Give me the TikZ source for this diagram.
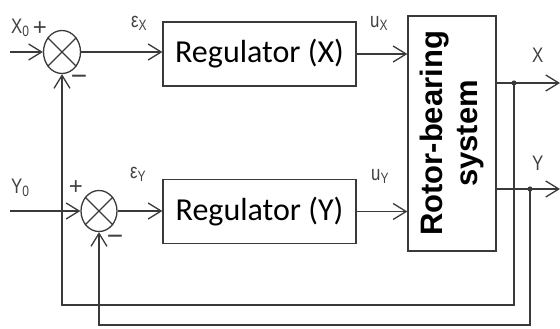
\documentclass[tikz,border=0pt]{standalone}
\usepackage{fontspec}
\setmainfont{Carlito}
\newfontfamily\labelfont[FakeStretch=0.8]{Liberation Sans}
\newfontfamily\signfont{Liberation Sans}
\usetikzlibrary{arrows.meta,shapes.geometric}
\definecolor{lineGray}{HTML}{3a3a3a}
\newcommand{\lowsub}[1]{\raisebox{-3pt}{\fontsize{15}{15}\selectfont#1}}

\begin{document}
\begin{tikzpicture}[x=1pt,y=-1pt]
    \tikzset{
        wire/.style={draw=lineGray, line width=1.3pt},
        sig/.style={wire, -{Straight Barb[length=13pt,width=16pt,line width=1.3pt]}},
        block/.style={wire, minimum width=193pt, minimum height=64pt, inner sep=0pt, font=\fontsize{32}{32}\selectfont},
        sumnode/.style={wire, ellipse, minimum width=37pt, minimum height=43pt, inner sep=0pt},
        lbl/.style={inner sep=0pt, anchor=base west, text=black!75, font=\labelfont\fontsize{21}{21}\selectfont},
        sign/.style={inner sep=0pt, text=black!75, font=\signfont\fontsize{24}{24}\selectfont}
    }
    \useasboundingbox (0,0) rectangle (560,329);

    % blocks
    \node[sumnode] (sx) at (62,52) {};
    \node[sumnode, minimum width=36pt, minimum height=41pt] (sy) at (99,211) {};
    \draw[wire] (sx.45) -- (sx.225) (sx.135) -- (sx.-45);
    \draw[wire] (sy.45) -- (sy.225) (sy.135) -- (sy.-45);
    \node[block] (rx) at (259.5,54) {Regulator (X)};
    \node[block] (ry) at (259.5,211.5) {Regulator (Y)};
    \node[wire, minimum width=88pt, minimum height=235pt] (rotor) at (452,133.5) {};
    \node[rotate=90, align=center, inner sep=0pt, font=\signfont\bfseries\fontsize{31}{35}\selectfont] (rotortext) at (rotor.center) {Rotor-bearing\\system};

    % free ends
    \coordinate (inx) at (10,52);
    \coordinate (iny) at (10,211);
    \coordinate (tapx) at (514,83);
    \coordinate (tapy) at (530,189);
    \coordinate (outx) at (560,83);
    \coordinate (outy) at (560,189);

    % signals
    \draw[sig] (inx) -- (sx.west);
    \draw[sig] (iny) -- (sy.west);
    \draw[sig] (sx.east) -- (sx.east -| rx.west);
    \draw[sig] (sy.east) -- (sy.east -| ry.west);
    \draw[sig] (rx.east) -- (rx.east -| rotor.west);
    \draw[sig] (ry.east) -- (ry.east -| rotor.west);
    \draw[sig] (tapx -| rotor.east) -- (outx);
    \draw[sig] (tapy -| rotor.east) -- (outy);
    \draw[sig] (tapx) -- ++(0,222) -| (sx.south);
    \draw[sig] (tapy) -- ++(0,136) -| (sy.south);
    \fill[lineGray] (tapx) circle (2.6pt) (tapy) circle (2.6pt);

    % labels
    \node[lbl] (x0) at (11,34) {X\lowsub{0}};
    \node[sign] (px) at (40,29) {+};
    \node[sign, font=\signfont\fontsize{28}{28}\selectfont] (mx) at (79,80) {−};
    \node[lbl] (y0) at (11,193) {Y\lowsub{0}};
    \node[sign] (py) at (76,188) {+};
    \node[sign, font=\signfont\fontsize{28}{28}\selectfont] (my) at (115,240) {−};
    \node[lbl] (ex) at (131,28) {ε\lowsub{X}};
    \node[lbl] (ey) at (130,178) {ε\lowsub{Y}};
    \node[lbl] (ux) at (370,28) {u\lowsub{X}};
    \node[lbl] (uy) at (371,180) {u\lowsub{Y}};
    \node[lbl] (xl) at (532,63) {X};
    \node[lbl] (yl) at (532,170) {Y};
\end{tikzpicture}
\end{document}
